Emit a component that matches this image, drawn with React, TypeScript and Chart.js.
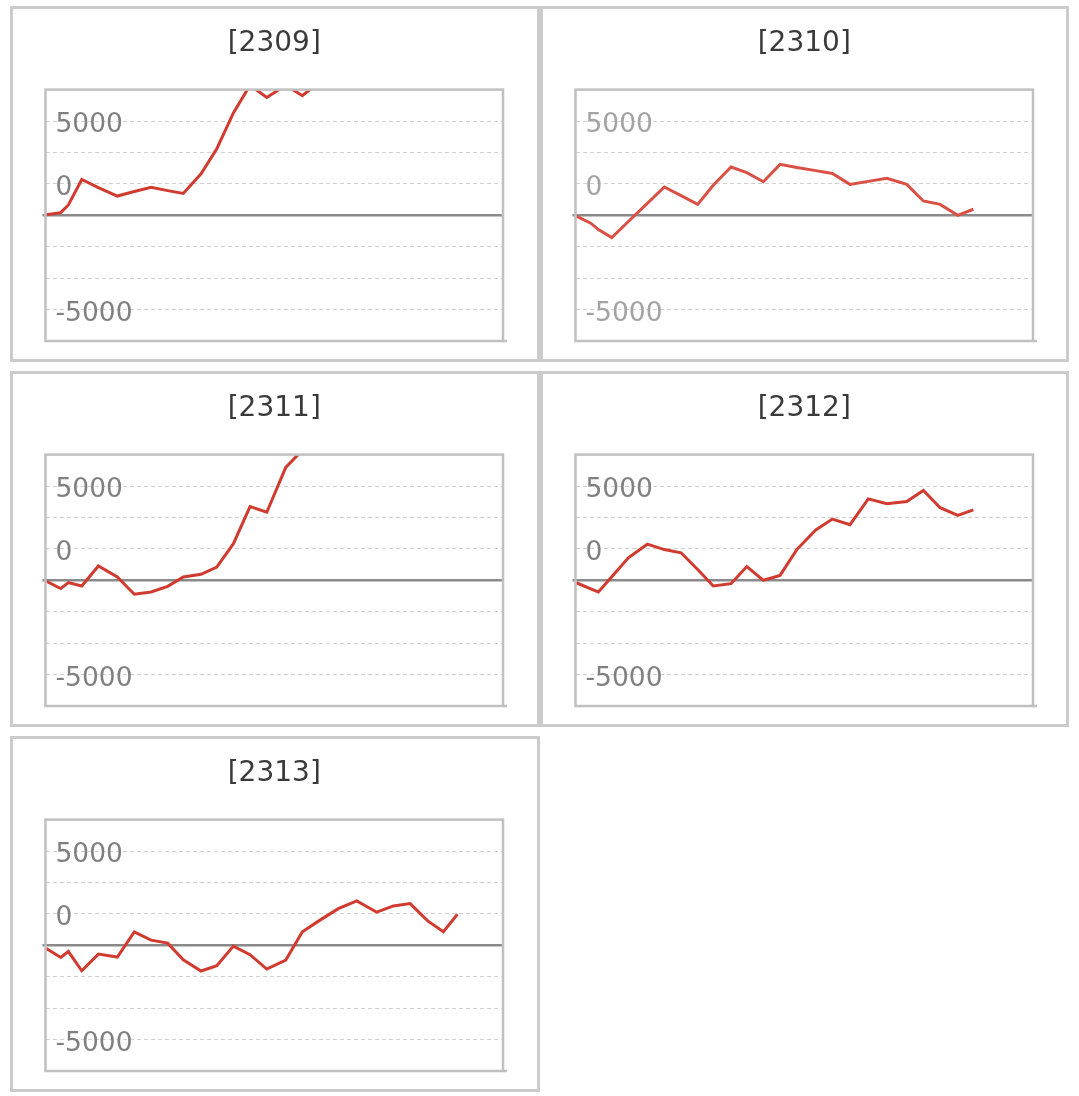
import React, { useEffect, useRef } from 'react';
import { Chart, registerables } from 'chart.js';

Chart.register(...registerables);

// ---- data ----
const PANEL_TITLES = ['[2309]', '[2310]', '[2311]', '[2312]', '[2313]'];

// shared x positions of the points (same for every panel)
const X_POS = [0.05, 0.9, 1.35, 2.14, 3.12, 4.24, 5.24, 6.23, 7.21, 8.13, 9.18, 10.11, 11.09, 12.07, 13.06, 14.18, 15.16, 16.2, 17.28, 18.37, 19.55, 20.53, 21.52, 22.56, 23.48, 24.31];
const X_MIN = 0;
const X_MAX = 27;

const S2309 = [30, 140, 550, 1900, 1470, 1020, 1260, 1480, 1310, 1160, 2200, 3530, 5430, 6900, 6250, 6900, 6340, 7100];
const S2310 = [-40, -420, -760, -1180, -330, 635, 1500, 1040, 580, 1590, 2560, 2260, 1780, 2700, 2540, 2370, 2220, 1640, 1800, 1960, 1640, 760, 580, 0, 320];
const S2311 = [-50, -440, -120, -300, 760, 180, -740, -620, -320, 180, 320, 700, 1940, 3910, 3610, 5990, 6900];
const S2312 = [-130, -450, -620, 190, 1190, 1915, 1630, 1460, 570, -300, -180, 730, 0, 260, 1630, 2670, 3250, 2950, 4320, 4060, 4180, 4760, 3850, 3440, 3740];
const S2313 = [-170, -645, -330, -1350, -465, -625, 715, 275, 115, -765, -1365, -1085, -40, -500, -1260, -785, 715, 1335, 1945, 2355, 1755, 2090, 2210, 1295, 715, 1650];

const SERIES = [S2309, S2310, S2311, S2312, S2313];

const Y_MIN = -6667;
const Y_MAX = 6667;
const Y_TICK_VALUES = [-6667, -5000, -3333, -1667, 0, 1667, 3333, 5000, 6667];
const Y_TICK_LABELS = ['', '-5000', '', '', '', '0', '', '5000', ''];

// ---- styles ----
const FONT = "'DejaVu Sans', sans-serif";
const LINE_COLORS = ['#d13b2f', '#da5045', '#d13b2f', '#d13b2f', '#d13b2f'];
const LABEL_COLORS = ['#808080', '#a3a3a3', '#808080', '#808080', '#808080'];
const PANEL_POS = [
  { left: 10, top: 6, width: 530 },
  { left: 540, top: 6, width: 529 },
  { left: 10, top: 371, width: 530 },
  { left: 540, top: 371, width: 529 },
  { left: 10, top: 736, width: 530 },
];
const PANEL_H = 356;

const framePlugin = {
  id: 'frame',
  beforeDatasetsDraw(chart: any) {
    const { ctx, chartArea } = chart;
    const y = chart.scales.y.getPixelForValue(0);
    ctx.save();
    ctx.strokeStyle = '#8a8a8a';
    ctx.lineWidth = 2.5;
    ctx.beginPath();
    ctx.moveTo(chartArea.left - 3, y);
    ctx.lineTo(chartArea.right, y);
    ctx.stroke();
    ctx.restore();
  },
  afterDraw(chart: any) {
    const { ctx, chartArea } = chart;
    ctx.save();
    ctx.strokeStyle = '#c0c0c0';
    ctx.lineWidth = 2.5;
    ctx.strokeRect(chartArea.left, chartArea.top, chartArea.right - chartArea.left, chartArea.bottom - chartArea.top);
    ctx.beginPath();
    ctx.moveTo(chartArea.right, chartArea.bottom);
    ctx.lineTo(chartArea.right + 4, chartArea.bottom);
    ctx.stroke();
    ctx.restore();
  },
};

function Panel({ index }: { index: number }) {
  const ref = useRef<HTMLCanvasElement | null>(null);
  const pos = PANEL_POS[index];
  const cw = pos.width - 6;
  const ch = PANEL_H - 6;

  useEffect(() => {
    if (!ref.current) return;
    const values = SERIES[index];
    const chart = new Chart(ref.current, {
      type: 'line',
      data: {
        datasets: [
          {
            data: values.map((v, i) => ({ x: X_POS[i], y: v })),
            borderColor: LINE_COLORS[index],
            borderWidth: 3,
            pointRadius: 0,
            tension: 0,
            fill: false,
            clip: 0,
          } as any,
        ],
      },
      options: {
        animation: false,
        responsive: false,
        devicePixelRatio: 1,
        layout: { padding: { left: 32.5, right: cw - 490, top: 0, bottom: 18 } },
        plugins: {
          legend: { display: false },
          tooltip: { enabled: false },
          title: {
            display: true,
            text: PANEL_TITLES[index],
            color: '#3a3a3a',
            font: { family: FONT, size: 28, weight: 'normal' },
            padding: { top: 18, bottom: 29 },
          },
        },
        scales: {
          x: { type: 'linear', display: false, min: X_MIN, max: X_MAX },
          y: {
            type: 'linear',
            min: Y_MIN,
            max: Y_MAX,
            afterBuildTicks: (s: any) => {
              s.ticks = Y_TICK_VALUES.map((v) => ({ value: v }));
            },
            afterFit: (s: any) => {
              s.width = 0;
              s.paddingTop = 0;
              s.paddingBottom = 0;
              s.paddingLeft = 0;
              s.paddingRight = 0;
            },
            grid: {
              color: (c: any) => (c.tick && c.tick.value === 0 ? 'rgba(0,0,0,0)' : '#d0d0d0'),
              lineWidth: 1,
              drawTicks: false,
            },
            border: { display: false, dash: [4, 3] },
            ticks: {
              mirror: true,
              padding: 10,
              autoSkip: false,
              labelOffset: 4.5,
              color: LABEL_COLORS[index],
              font: { family: FONT, size: 26.5 },
              callback: (_v: any, i: number) => Y_TICK_LABELS[i],
            },
          },
        },
      } as any,
      plugins: [framePlugin],
    });
    return () => chart.destroy();
  }, [index]);

  return (
    <div
      style={{
        position: 'absolute',
        left: pos.left,
        top: pos.top,
        width: pos.width,
        height: PANEL_H,
        boxSizing: 'border-box',
        border: '3px solid #cbcbcb',
        background: '#fff',
      }}
    >
      <canvas ref={ref} width={cw} height={ch} style={{ display: 'block', width: cw, height: ch }} />
    </div>
  );
}

export default function App() {
  return (
    <div style={{ position: 'absolute', left: 0, top: 0, width: 1079, height: 1096, background: '#fff' }}>
      {PANEL_TITLES.map((_t, i) => (
        <Panel key={i} index={i} />
      ))}
    </div>
  );
}
